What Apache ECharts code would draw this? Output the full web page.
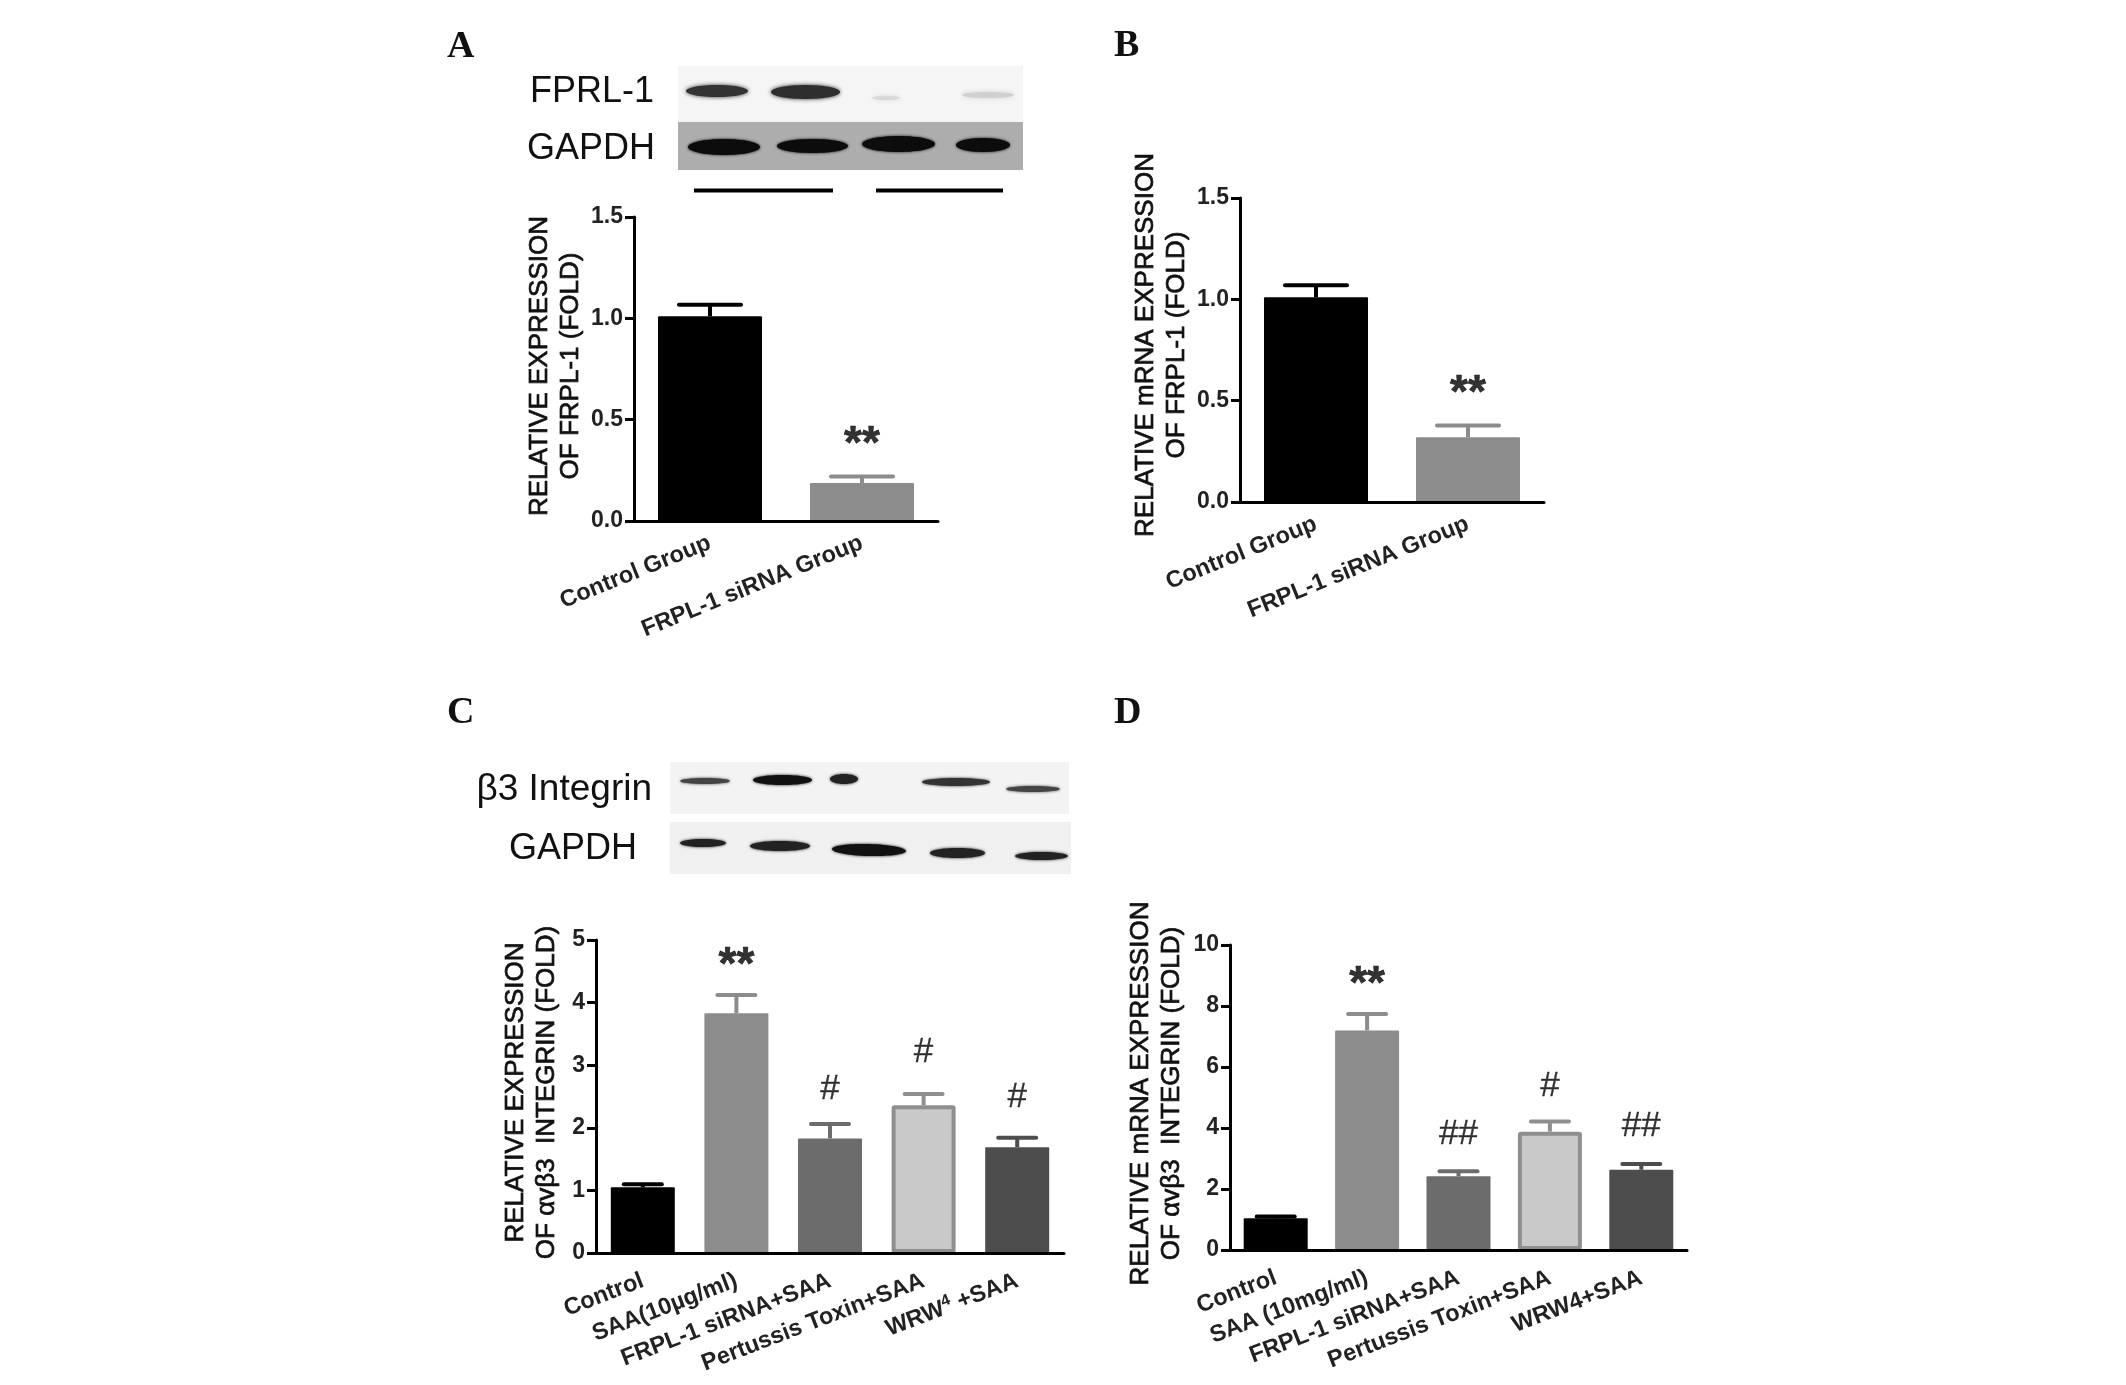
<!DOCTYPE html>
<html><head><meta charset="utf-8">
<style>html,body{margin:0;padding:0;background:#fff}#c{width:2126px;height:1385px}</style>
<script src="https://cdn.jsdelivr.net/npm/echarts@6/dist/echarts.min.js"></script>
</head><body><div id="c"></div>
<script>
const categoriesAB = ['Control Group', 'FRPL-1 siRNA Group'];
const categoriesC = ['Control', 'SAA(10µg/ml)', 'FRPL-1 siRNA+SAA', 'Pertussis Toxin+SAA', 'WRW4+SAA'];
const categoriesD = ['Control', 'SAA (10mg/ml)', 'FRPL-1 siRNA+SAA', 'Pertussis Toxin+SAA', 'WRW4+SAA'];

const valuesA = [1.01, 0.187];
const errTopA = [1.067, 0.22];
const starsA = ['', '**'];
const starYA = [null, 0.373];

const valuesB = [1.01, 0.32];
const errTopB = [1.07, 0.377];
const starsB = ['', '**'];
const starYB = [null, 0.53];

const valuesC = [1.05, 3.83, 1.83, 2.36, 1.69];
const errTopC = [1.1, 4.12, 2.06, 2.54, 1.84];
const starsC = ['', '**', '#', '#', '#'];
const starYC = [null, 4.58, 2.62, 3.2, 2.48];

const valuesD = [1.04, 7.2, 2.42, 3.88, 2.63];
const errTopD = [1.1, 7.74, 2.58, 4.21, 2.82];
const starsD = ['', '**', '##', '#', '##'];
const starYD = [null, 8.67, 3.78, 5.38, 4.05];

const SANS = '"Liberation Sans", Arial, sans-serif';
const SERIF = '"Liberation Serif", serif';
const fills2 = ['#000000', '#8c8c8c'];
const fills5 = ['#000000', '#8c8c8c', '#6c6c6c', '#c9c9c9', '#4d4d4d'];
const edges5 = ['#000000', '#8c8c8c', '#6c6c6c', '#8f8f8f', '#4d4d4d'];

const panels = [
  {box:{left:634,top:217,width:304,height:304}, cats:categoriesAB, vals:valuesA, err:errTopA, marks:starsA, markY:starYA,
   max:1.5, step:0.5, dec:1, fills:fills2, edges:fills2, barW:104, capW:62, name:'RELATIVE EXPRESSION\nOF FRPL-1 (FOLD)', gap:18, shift:6, rot:22, margin:21},
  {box:{left:1240,top:198,width:304,height:304}, cats:categoriesAB, vals:valuesB, err:errTopB, marks:starsB, markY:starYB,
   max:1.5, step:0.5, dec:1, fills:fills2, edges:fills2, barW:104, capW:62, name:'RELATIVE mRNA EXPRESSION\nOF FRPL-1 (FOLD)', gap:18, shift:10, rot:22, margin:21},
  {box:{left:596,top:940,width:468,height:313}, cats:categoriesC, vals:valuesC, err:errTopC, marks:starsC, markY:starYC,
   max:5, step:1, dec:0, fills:fills5, edges:edges5, barW:64, capW:38, name:'RELATIVE EXPRESSION\nOF αvβ3  INTEGRIN (FOLD)', gap:4, shift:8, rot:21, margin:27, sup:true},
  {box:{left:1230,top:945,width:457,height:305}, cats:categoriesD, vals:valuesD, err:errTopD, marks:starsD, markY:starYD,
   max:10, step:2, dec:0, fills:fills5, edges:edges5, barW:64, capW:38, name:'RELATIVE mRNA EXPRESSION\nOF αvβ3  INTEGRIN (FOLD)', gap:13, shift:8, rot:21, margin:27}
];

const grid=[], xAxis=[], yAxis=[], series=[];
panels.forEach((p,i)=>{
  grid.push(p.box);
  xAxis.push({type:'category', gridIndex:i, data:p.cats, boundaryGap:true, z:6,
    axisLine:{lineStyle:{color:'#000',width:3}},
    axisTick:{alignWithLabel:true,length:9,lineStyle:{color:'#222',width:3}},
    axisLabel:{interval:0, rotate:p.rot, margin:p.margin, color:'#222', fontFamily:SANS, fontWeight:'bold', fontSize:23.5,
      formatter:p.sup ? (v=>v.replace('WRW4','WRW{sup|4} ')) : undefined,
      rich:{sup:{fontSize:16,fontWeight:'bold',fontFamily:SANS,color:'#222',verticalAlign:'top',padding:[0,0,12,0]}}}});
  yAxis.push({type:'value', gridIndex:i, min:0, max:p.max, interval:p.step,
    name:p.name, nameLocation:'middle', nameGap:p.gap+30, nameRotate:90,
    nameTextStyle:{color:'#111',fontFamily:SANS,fontSize:26,lineHeight:31,fontWeight:'normal',textBorderColor:'#111',textBorderWidth:0.7,padding:[0,0,0,p.shift]},
    splitLine:{show:false},
    axisLine:{show:true,lineStyle:{color:'#000',width:3}},
    axisTick:{show:true,length:9,lineStyle:{color:'#000',width:3}},
    axisLabel:{margin:11,color:'#222',fontFamily:SANS,fontWeight:'bold',fontSize:23,formatter:v=>v.toFixed(p.dec)}});
  series.push({type:'custom', xAxisIndex:i, yAxisIndex:i, z:1, silent:true,
    data:p.err.map((e,j)=>[j,p.vals[j],e]),
    encode:{x:0,y:2},
    renderItem:(params,api)=>{
      const a=api.coord([api.value(0),api.value(1)]), b=api.coord([api.value(0),api.value(2)]);
      const c=p.edges[params.dataIndex];
      return {type:'group',children:[
        {type:'line',shape:{x1:a[0],y1:a[1],x2:b[0],y2:b[1]},style:{stroke:c,lineWidth:4}},
        {type:'line',shape:{x1:b[0]-p.capW/2,y1:b[1],x2:b[0]+p.capW/2,y2:b[1]},style:{stroke:c,lineWidth:4,lineCap:'round'}}
      ]};
    }});
  series.push({type:'bar', xAxisIndex:i, yAxisIndex:i, z:2, barWidth:p.barW, silent:true,
    data:p.vals.map((v,j)=>({value:v,itemStyle:{color:p.fills[j],borderColor:p.edges[j],borderWidth:j===3?4:0,borderRadius:1}}))});
  series.push({type:'scatter', xAxisIndex:i, yAxisIndex:i, z:3, symbolSize:0, silent:true,
    data:p.markY.map((y,j)=>({value:[j,y===null?'-':y],
      label:{show:true,position:'inside',color:'#000',fontFamily:SANS,
        fontSize:p.marks[j]==='**'?46:35,fontWeight:p.marks[j]==='**'?'bold':'normal',
        textBorderColor:'#000',textBorderWidth:p.marks[j]==='**'?0.6:0.3,
        formatter:()=>p.marks[j]}}))});
});

function txt(x,y,s,size,family,weight,align){
  return {type:'text',z:5,silent:true,x:x,y:y,style:{text:s,fill:'#111',font:(weight||'normal')+' '+size+'px '+family,textAlign:align||'left',textVerticalAlign:'middle'}};
}
function rect(x,y,w,h,c){return {type:'rect',z:0,silent:true,shape:{x:x,y:y,width:w,height:h},style:{fill:c}};}
function band(x1,x2,cy,ry,c,blur,rot){
  return {type:'ellipse',z:1,silent:true,x:(x1+x2)/2,y:cy,rotation:rot||0,
    shape:{cx:0,cy:0,rx:(x2-x1)/2,ry:ry},style:{fill:c,shadowBlur:blur||4,shadowColor:c}};
}
const graphic=[
  txt(447,47,'A',38,SERIF,'bold'), txt(1114,46,'B',38,SERIF,'bold'),
  txt(447,713,'C',38,SERIF,'bold'), txt(1114,713,'D',38,SERIF,'bold'),
  txt(654,92,'FPRL-1',36,SANS,'normal','right'), txt(655,149,'GAPDH',36,SANS,'normal','right'),
  txt(652,790,'β3 Integrin',37,SANS,'normal','right'), txt(637,849,'GAPDH',36,SANS,'normal','right'),
  rect(678,66,345,56,'#f5f5f5'), rect(678,122,345,48,'#adadad'),
  band(686,748,91,6,'#333',4), band(771,840,92,7,'#2e2e2e',4), band(872,900,98,2,'#d8d8d8',4), band(962,1014,95,3,'#d0d0d0',5),
  band(688,760,147,8,'#0c0c0c',3), band(777,848,146,7,'#0c0c0c',3), band(862,935,144,8,'#0c0c0c',3), band(956,1010,145,7,'#0c0c0c',3),
  {type:'rect',z:2,silent:true,shape:{x:694,y:188.5,width:139,height:4},style:{fill:'#000'}},
  {type:'rect',z:2,silent:true,shape:{x:876,y:188.5,width:127,height:4},style:{fill:'#000'}},
  rect(670,762,399,52,'#f3f3f3'), rect(670,822,401,52,'#f0f0f0'),
  band(680,730,781,3,'#444',3), band(753,812,780,5,'#111',3), band(830,858,779,5,'#222',3), band(922,990,782,4,'#333',3), band(1006,1060,789,3,'#444',3),
  band(680,726,843,4,'#222',3), band(750,810,846,5,'#222',3), band(832,906,850,6,'#111',3,-0.03), band(930,985,853,5,'#222',3), band(1015,1068,856,4,'#222',3)
];

const chart=echarts.init(document.getElementById('c'),null,{renderer:'canvas'});
chart.setOption({backgroundColor:'#fff',animation:false,tooltip:{show:false},legend:{show:false},grid,xAxis,yAxis,series,graphic});
</script></body></html>
